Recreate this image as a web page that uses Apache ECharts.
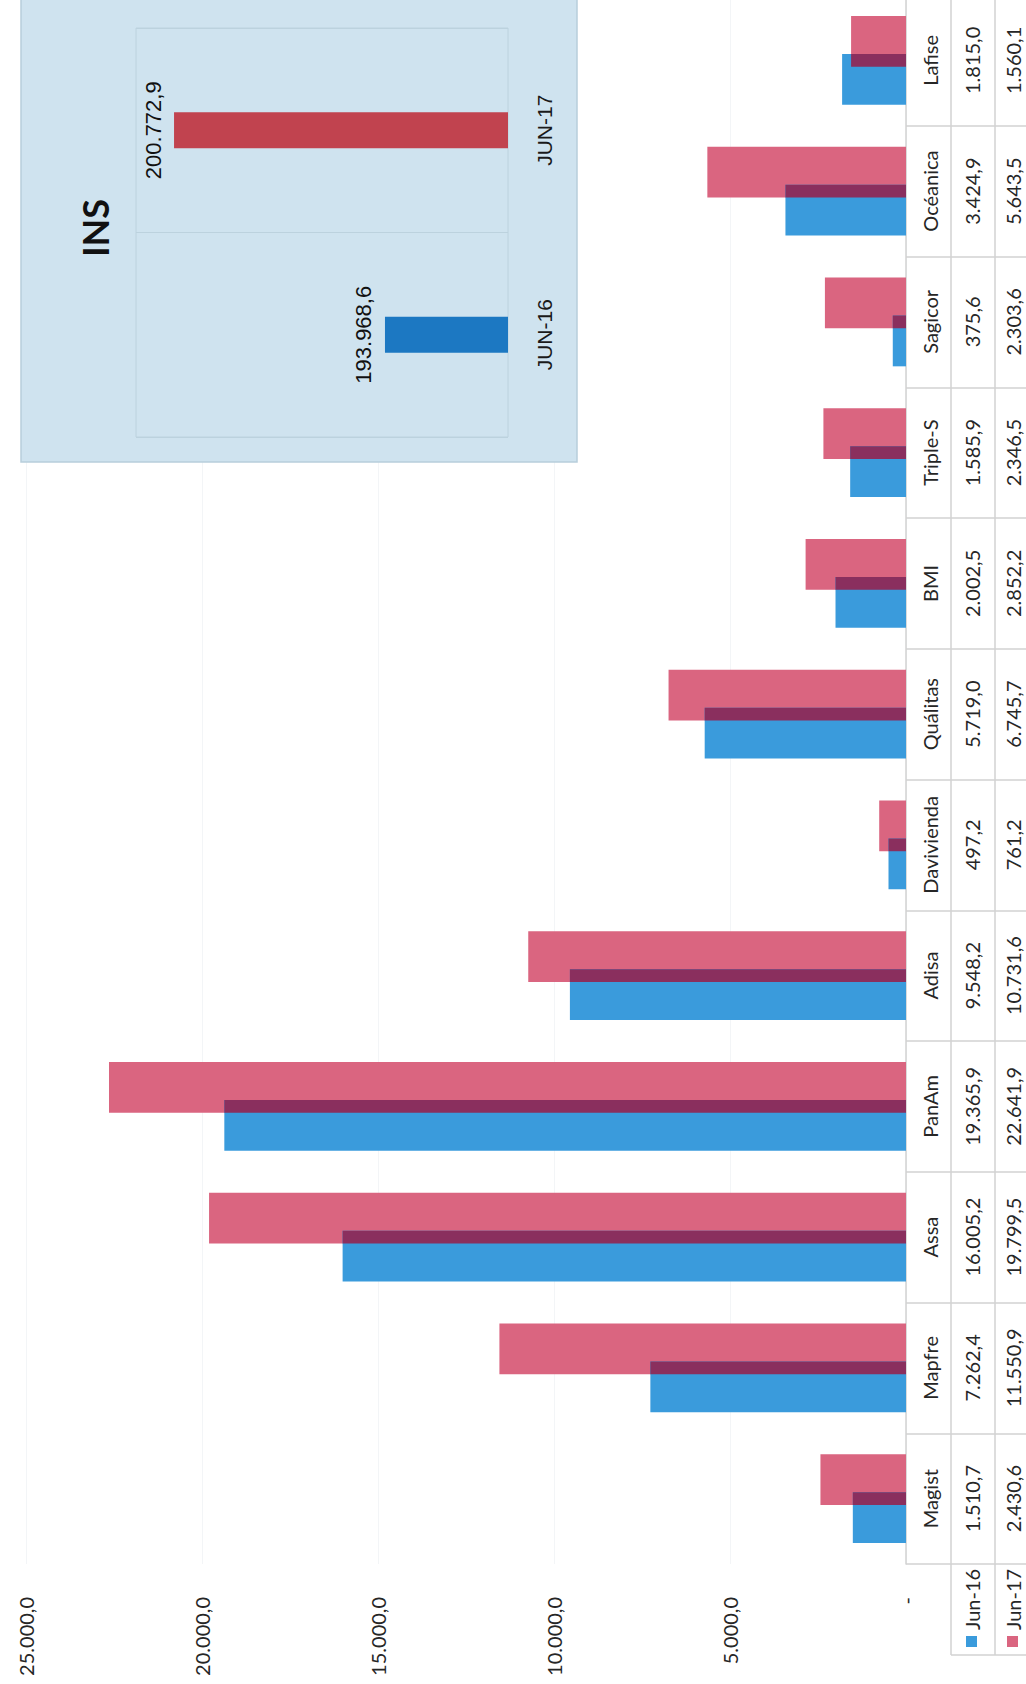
<!DOCTYPE html>
<html>
<head>
<meta charset="utf-8">
<script src="https://cdn.jsdelivr.net/npm/echarts@6/dist/echarts.min.js"></script>
<style>
  html, body { margin: 0; padding: 0; background: #fff; }
  #chart { width: 1026px; height: 1684px; }
</style>
</head>
<body>
<div id="chart"></div>
<script>
// data
const categories = ['Magist', 'Mapfre', 'Assa', 'PanAm', 'Adisa', 'Davivienda', 'Quálitas', 'BMI', 'Triple-S', 'Sagicor', 'Océanica', 'Lafise'];
const jun16 = [1510.7, 7262.4, 16005.2, 19365.9, 9548.2, 497.2, 5719.0, 2002.5, 1585.9, 375.6, 3424.9, 1815.0];
const jun17 = [2430.6, 11550.9, 19799.5, 22641.9, 10731.6, 761.2, 6745.7, 2852.2, 2346.5, 2303.6, 5643.5, 1560.1];
const seriesNames = ['Jun-16', 'Jun-17'];

const insCategories = ['JUN-16', 'JUN-17'];
const insValues = [193968.6, 200772.9];

const BLUE = '#3a9bdc';
const PINK = '#da6580';
const DARK = '#8a2f5e';
const INS_COLORS = ['#1c78c2', '#c1434f'];
const LINE = '#d2d2d2';
const FONT = 'Lato';

const CAT_GAP = 0.32;
const BAR_GAP = -0.25;

// 12345.6 -> "12.345,6"
function fmt(v) {
  if (v === 0) return '-';
  const parts = v.toFixed(1).split('.');
  return parts[0].replace(/\B(?=(\d{3})+(?!\d))/g, '.') + ',' + parts[1];
}

const overlap = jun16.map((v, i) => [Math.min(v, jun17[i]), i]);

// dark band where the two bars of a category overlap
function renderOverlap(params, api) {
  const idx = api.value(1);
  const p0 = api.coord([0, idx]);
  const p1 = api.coord([api.value(0), idx]);
  const band = api.size([0, 1])[1];
  const barW = band * (1 - CAT_GAP) / (2 + BAR_GAP);
  const h = barW * -BAR_GAP;
  return {
    type: 'rect',
    shape: { x: Math.min(p0[0], p1[0]), y: p0[1] - h / 2, width: Math.abs(p1[0] - p0[0]), height: h },
    style: { fill: DARK }
  };
}

function tableAxis(offset, margin, formatter, withTicks) {
  return {
    type: 'category',
    gridIndex: 0,
    position: 'right',
    offset: offset,
    data: categories,
    axisLine: { show: true, lineStyle: { color: LINE, width: 1.5 } },
    axisTick: { show: withTicks, interval: 0, length: 130, lineStyle: { color: LINE, width: 1.5 } },
    axisLabel: {
      interval: 0, rotate: 90, margin: margin,
      color: '#262626', fontFamily: FONT, fontSize: 20,
      formatter: formatter
    },
    splitLine: { show: false }
  };
}

const chart = echarts.init(document.getElementById('chart'), null, { renderer: 'svg' });

chart.setOption({
  animation: false,
  backgroundColor: '#fff',
  grid: [
    { left: 26, right: 120, top: -5, bottom: 120, outerBoundsMode: 'none' },
    { left: 136, right: 518, top: 28, bottom: 1247, z: 2, show: true, borderColor: '#bcd2de', borderWidth: 1, outerBoundsMode: 'none' }
  ],
  xAxis: [
    {
      type: 'value', gridIndex: 0, inverse: true, position: 'bottom',
      min: 0, max: 25000, interval: 5000,
      axisLine: { show: false }, axisTick: { show: false },
      axisLabel: { rotate: 90, margin: 33, color: '#262626', fontFamily: FONT, fontSize: 20, formatter: fmt },
      splitLine: { show: true, lineStyle: { color: '#f3f5f7', width: 1 } }
    },
    {
      type: 'value', gridIndex: 1, inverse: true,
      min: 190000, max: 202000,
      axisLine: { show: false }, axisTick: { show: false },
      axisLabel: { show: false }, splitLine: { show: false }
    }
  ],
  yAxis: [
    tableAxis(0, 14, null, true),
    tableAxis(45, 11, (v, i) => fmt(jun16[i]), false),
    tableAxis(89, 8, (v, i) => fmt(jun17[i]), false),
    {
      type: 'category', gridIndex: 1, position: 'right', z: 2,
      data: insCategories,
      axisLine: { show: false }, axisTick: { show: false },
      axisLabel: { rotate: 90, margin: 26, color: '#1a1a1a', fontFamily: 'Liberation Sans', fontSize: 21 },
      splitLine: { show: true, lineStyle: { color: '#bcd2de', width: 1 } }
    }
  ],
  series: [
    // Jun-17 first so it sits on the upper side of each band, Jun-16 below it
    {
      name: seriesNames[1], type: 'bar', xAxisIndex: 0, yAxisIndex: 0,
      data: jun17, barCategoryGap: '32%', barGap: '-25%',
      itemStyle: { color: PINK }
    },
    {
      name: seriesNames[0], type: 'bar', xAxisIndex: 0, yAxisIndex: 0,
      data: jun16, barCategoryGap: '32%', barGap: '-25%',
      itemStyle: { color: BLUE }
    },
    {
      type: 'custom', xAxisIndex: 0, yAxisIndex: 0, z: 3,
      data: overlap, encode: { x: 0, y: 1 },
      renderItem: renderOverlap
    },
    {
      type: 'bar', xAxisIndex: 1, yAxisIndex: 3, barWidth: 36, z: 4,
      data: insValues.map((v, i) => ({ value: v, itemStyle: { color: INS_COLORS[i] } })),
      label: {
        show: true, position: 'left', distance: 10, rotate: 90,
        align: 'center', verticalAlign: 'bottom',
        color: '#111', fontFamily: 'Liberation Sans', fontSize: 22,
        formatter: p => fmt(p.value)
      }
    }
  ],
  graphic: [
    // INS inset box
    { type: 'rect', z: 1, shape: { x: 21, y: -2, width: 556, height: 464 },
      style: { fill: '#cfe3ef', stroke: '#b8cedb', lineWidth: 1.5 } },
    { type: 'text', z: 5, x: 95, y: 228, rotation: Math.PI / 2,
      style: { text: 'INS', fontFamily: FONT, fontWeight: 'bold', fontSize: 36, fill: '#111', align: 'center', verticalAlign: 'middle' } },
    // legend cells under the data table
    { type: 'line', z: 5, shape: { x1: 951, y1: 1564, x2: 951, y2: 1655 }, style: { stroke: LINE, lineWidth: 1.5 } },
    { type: 'line', z: 5, shape: { x1: 995, y1: 1564, x2: 995, y2: 1655 }, style: { stroke: LINE, lineWidth: 1.5 } },
    { type: 'line', z: 5, shape: { x1: 951, y1: 1655, x2: 1026, y2: 1655 }, style: { stroke: LINE, lineWidth: 1.5 } },
    { type: 'rect', z: 5, shape: { x: 966, y: 1636, width: 11, height: 11 }, style: { fill: BLUE } },
    { type: 'rect', z: 5, shape: { x: 1007, y: 1636, width: 11, height: 11 }, style: { fill: PINK } },
    { type: 'text', z: 5, x: 972, y: 1630, rotation: Math.PI / 2,
      style: { text: seriesNames[0], fontFamily: FONT, fontSize: 20, fill: '#262626', align: 'left', verticalAlign: 'middle' } },
    { type: 'text', z: 5, x: 1013, y: 1630, rotation: Math.PI / 2,
      style: { text: seriesNames[1], fontFamily: FONT, fontSize: 20, fill: '#262626', align: 'left', verticalAlign: 'middle' } }
  ]
});
</script>
</body>
</html>
